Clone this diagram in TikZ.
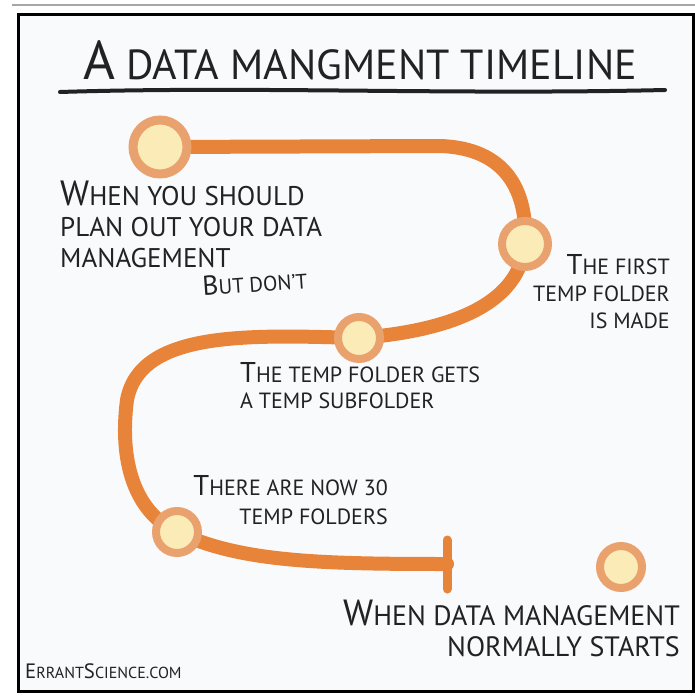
\documentclass[tikz,border=0pt]{standalone}
\usepackage{fontspec}
\setmainfont{PT Sans}
\usepackage{tikz}
\usetikzlibrary{backgrounds,calc}
\definecolor{trailorange}{HTML}{E8843A}
\definecolor{stopring}{HTML}{E9A26E}
\definecolor{stopfill}{HTML}{FBEBB6}
\definecolor{ink}{HTML}{222222}
\definecolor{paper}{HTML}{F9FAFC}
\newcommand{\ini}[1]{\scalebox{1.3}{#1}}
\newcommand{\fsz}[2]{\fontsize{#1}{#2}\selectfont}
\tikzset{
  trail/.style={trailorange, line width=14pt, line cap=round, line join=round},
  stop/.style={circle, draw=stopring, fill=stopfill, line width=8pt, inner sep=0pt, minimum size=#1},
  stop/.default=42pt,
  caption/.style={text=ink, inner sep=0pt}
}

\begin{document}
\begin{tikzpicture}[x=1pt,y=-1pt]
\useasboundingbox (0,0) rectangle (695,698);
\draw[gray!70, line width=1.2pt] (12,5) -- (695,5);
\node[caption, anchor=base, font=\fsz{42}{46}] (title) at (360,80) {\ini{A} DATA MANGMENT TIMELINE};
\draw[ink, line width=4pt, line cap=round] (60,92) .. controls (250,86) and (450,95) .. (665,90);
\node[stop=54pt, line width=9pt] (plan) at (160,147) {};
\node[stop=46pt] (first) at (525,244) {};
\node[stop] (sub) at (359,338) {};
\node[stop] (thirty) at (177,532) {};
\node[stop] (normal) at (621,567) {};
\coordinate (tail) at (447,564);
\begin{pgfonlayer}{background}
\fill[paper] (18,15) rectangle (693,691);
\draw[trail] (plan.center) -- (440,146) .. controls (505,148) and (528,190) .. (first.center)
  .. controls (520,300) and (460,330) .. (sub.center)
  .. controls (250,335) and (140,330) .. (127,400)
  .. controls (118,470) and (140,515) .. (thirty.center)
  .. controls (240,562) and (320,564) .. (tail);
\draw[trail, line width=9pt] ($(tail)+(0,-24)$) -- ($(tail)+(0,25)$);
\end{pgfonlayer}
\draw[black, line width=3pt] (18,15) rectangle (693,691);
\node[caption, anchor=north west, align=left, font=\fsz{27}{31}] (planlbl) at (60,181) {\ini{W}HEN YOU SHOULD\\PLAN OUT YOUR DATA\\MANAGEMENT};
\node[caption, anchor=base west, rotate=4, font=\fsz{21}{25}] (dont) at (203,296) {\ini{B}UT DON'T};
\node[caption, anchor=north east, align=right, font=\fsz{22}{27}] (firstlbl) at (670,254) {\ini{T}HE FIRST\\TEMP FOLDER\\IS MADE};
\node[caption, anchor=north west, align=left, font=\fsz{22}{26}] (sublbl) at (240,362) {\ini{T}HE TEMP FOLDER GETS\\A TEMP SUBFOLDER};
\node[caption, anchor=north east, align=right, font=\fsz{22}{29}] (thirtylbl) at (388,475) {\ini{T}HERE ARE NOW 30\\TEMP FOLDERS};
\node[caption, anchor=north east, align=right, font=\fsz{28}{31}] (normallbl) at (680,600) {\ini{W}HEN DATA MANAGEMENT\\NORMALLY STARTS};
\node[caption, anchor=base west, font=\fsz{16}{18}] (site) at (25,678) {\ini{E}RRANT\ini{S}CIENCE.COM};
\end{tikzpicture}
\end{document}
